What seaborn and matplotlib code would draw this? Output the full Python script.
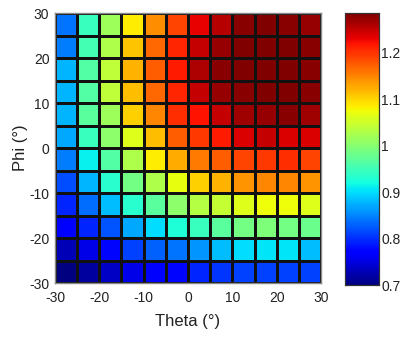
import numpy as np
import pandas as pd
import matplotlib
matplotlib.use("Agg")
import matplotlib.pyplot as plt
import seaborn as sns

theta = [-27.5, -22.5, -17.5, -12.5, -7.5, -2.5, 2.5, 7.5, 12.5, 17.5, 22.5, 27.5]
phi = [27.5, 22.5, 17.5, 12.5, 7.5, 2.5, -2.5, -7.5, -12.5, -17.5, -22.5, -27.5]

row_p27 = [0.840, 0.946, 1.016, 1.086, 1.145, 1.191, 1.232, 1.256, 1.279, 1.283, 1.279, 1.273]
row_p22 = [0.846, 0.952, 1.028, 1.110, 1.168, 1.209, 1.250, 1.273, 1.290, 1.288, 1.288, 1.279]
row_p17 = [0.876, 0.963, 1.039, 1.121, 1.174, 1.215, 1.262, 1.279, 1.290, 1.288, 1.288, 1.279]
row_p12 = [0.876, 0.963, 1.039, 1.115, 1.168, 1.209, 1.250, 1.273, 1.279, 1.285, 1.285, 1.279]
row_p07 = [0.876, 0.969, 1.016, 1.104, 1.150, 1.203, 1.221, 1.250, 1.267, 1.273, 1.279, 1.267]
row_p02 = [0.870, 0.946, 1.004, 1.063, 1.115, 1.174, 1.197, 1.215, 1.238, 1.250, 1.238, 1.238]
row_m02 = [0.846, 0.911, 0.963, 1.028, 1.086, 1.127, 1.156, 1.174, 1.191, 1.197, 1.203, 1.191]
row_m07 = [0.817, 0.876, 0.934, 0.987, 1.028, 1.069, 1.104, 1.121, 1.139, 1.150, 1.150, 1.139]
row_m12 = [0.794, 0.837, 0.881, 0.934, 0.969, 1.004, 1.033, 1.045, 1.063, 1.074, 1.074, 1.063]
row_m17 = [0.764, 0.794, 0.823, 0.870, 0.899, 0.928, 0.946, 0.969, 0.987, 0.993, 0.987, 0.981]
row_m22 = [0.729, 0.753, 0.776, 0.811, 0.829, 0.840, 0.858, 0.881, 0.899, 0.905, 0.905, 0.881]
row_m27 = [0.700, 0.718, 0.735, 0.753, 0.764, 0.776, 0.794, 0.805, 0.811, 0.811, 0.811, 0.811]

rows = [row_p27, row_p22, row_p17, row_p12, row_p07, row_p02,
        row_m02, row_m07, row_m12, row_m17, row_m22, row_m27]

x_tick_labels = ["-30", "-20", "-10", "0", "10", "20", "30"]
y_tick_labels = ["30", "20", "10", "0", "-10", "-20", "-30"]
cbar_ticks = [0.7, 0.8, 0.9, 1.0, 1.1, 1.2]
cbar_labels = ["0.7", "0.8", "0.9", "1", "1.1", "1.2"]

df = pd.DataFrame(rows, index=phi, columns=theta)

sns.set_style("white")
plt.rcParams['font.family'] = ['Liberation Sans', 'DejaVu Sans']

fig = plt.figure(figsize=(4.07, 3.37), dpi=100)
ax = fig.add_axes([0.135, 0.160, 0.654, 0.801])
cax = fig.add_axes([0.848, 0.154, 0.082, 0.807])

sns.heatmap(df, ax=ax, cbar_ax=cax, cmap="jet", vmin=0.7, vmax=1.285,
            linewidths=0.85, linecolor="#111111", square=False,
            xticklabels=False, yticklabels=False)

ax.set_xticks(np.arange(0, 13, 2))
ax.set_xticklabels(x_tick_labels, fontsize=10, rotation=0)
ax.set_yticks(np.arange(0, 13, 2))
ax.set_yticklabels(y_tick_labels, fontsize=10, rotation=0)
ax.tick_params(axis='x', length=0, pad=6, colors='#222222')
ax.tick_params(axis='y', length=0, pad=4, colors='#222222')
ax.set_xlabel("Theta (°)", fontsize=12, color='#222222', labelpad=6)
ax.set_ylabel("Phi (°)", fontsize=12, color='#222222', labelpad=1)
for s in ax.spines.values():
    s.set_visible(True)
    s.set_color('#888888')
    s.set_linewidth(1.0)

cax.set_yticks(cbar_ticks)
cax.set_yticklabels(cbar_labels, fontsize=10)
cax.tick_params(axis='y', which='both', direction='in', length=3, pad=2,
                left=True, right=True, colors='#222222', labelcolor='#222222')
for s in cax.spines.values():
    s.set_visible(True)
    s.set_color('#333333')
    s.set_linewidth(0.8)

fig.savefig("out.png", dpi=100)
